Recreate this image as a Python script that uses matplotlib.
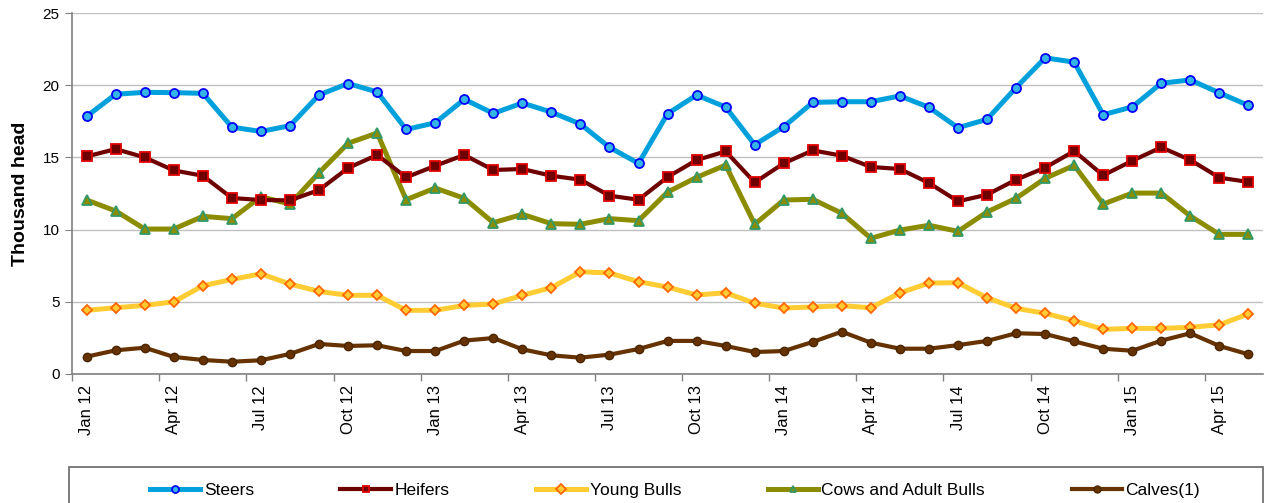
import matplotlib
matplotlib.use("Agg")
import matplotlib.pyplot as plt
from matplotlib.patches import Rectangle
import numpy as np

plt.rcParams['font.family'] = ['Liberation Sans', 'DejaVu Sans']

# monthly, Jan 12 .. May 15
months = ['Jan 12', 'Feb 12', 'Mar 12', 'Apr 12', 'May 12', 'Jun 12', 'Jul 12', 'Aug 12', 'Sep 12', 'Oct 12', 'Nov 12', 'Dec 12',
          'Jan 13', 'Feb 13', 'Mar 13', 'Apr 13', 'May 13', 'Jun 13', 'Jul 13', 'Aug 13', 'Sep 13', 'Oct 13', 'Nov 13', 'Dec 13',
          'Jan 14', 'Feb 14', 'Mar 14', 'Apr 14', 'May 14', 'Jun 14', 'Jul 14', 'Aug 14', 'Sep 14', 'Oct 14', 'Nov 14', 'Dec 14',
          'Jan 15', 'Feb 15', 'Mar 15', 'Apr 15', 'May 15']

steers = [17.85, 19.38, 19.51, 19.49, 19.44, 17.1, 16.8, 17.2, 19.33, 20.12, 19.54, 16.94,
          17.4, 19.03, 18.05, 18.77, 18.14, 17.31, 15.7, 14.59, 18.03, 19.32, 18.49, 15.88,
          17.13, 18.81, 18.86, 18.86, 19.26, 18.47, 17.06, 17.64, 19.84, 21.9, 21.6, 17.96,
          18.5, 20.14, 20.37, 19.47, 18.6]
heifers = [15.07, 15.58, 15.0, 14.1, 13.73, 12.19, 12.05, 12.03, 12.74, 14.27, 15.17, 13.62,
           14.42, 15.17, 14.13, 14.2, 13.73, 13.46, 12.35, 12.07, 13.64, 14.82, 15.42, 13.27,
           14.59, 15.49, 15.12, 14.34, 14.2, 13.23, 11.96, 12.42, 13.46, 14.29, 15.44, 13.76,
           14.77, 15.7, 14.82, 13.6, 13.3]
young_bulls = [4.41, 4.59, 4.75, 5.0, 6.11, 6.55, 6.94, 6.23, 5.72, 5.45, 5.45, 4.41,
               4.41, 4.75, 4.85, 5.45, 5.98, 7.08, 7.0, 6.39, 6.02, 5.47, 5.63, 4.9,
               4.57, 4.64, 4.73, 4.59, 5.61, 6.3, 6.32, 5.28, 4.55, 4.2, 3.69, 3.09,
               3.16, 3.16, 3.23, 3.41, 4.16]
cows = [12.05, 11.29, 10.04, 10.04, 10.92, 10.76, 12.28, 11.77, 13.94, 15.98, 16.69, 12.07,
        12.88, 12.17, 10.48, 11.06, 10.41, 10.37, 10.76, 10.62, 12.6, 13.62, 14.47, 10.37,
        12.05, 12.1, 11.13, 9.4, 9.97, 10.3, 9.88, 11.22, 12.17, 13.55, 14.45, 11.77,
        12.53, 12.53, 10.94, 9.67, 9.67]
calves = [1.2, 1.64, 1.82, 1.18, 0.97, 0.85, 0.95, 1.39, 2.08, 1.94, 1.99, 1.59,
          1.59, 2.31, 2.49, 1.71, 1.29, 1.13, 1.34, 1.73, 2.29, 2.29, 1.94, 1.52,
          1.59, 2.22, 2.93, 2.17, 1.75, 1.75, 2.0, 2.29, 2.82, 2.77, 2.26, 1.75,
          1.61, 2.31, 2.82, 1.94, 1.36]

fig = plt.figure(figsize=(12.66, 5.03), dpi=100)
ax = fig.add_axes([0.057, 0.2565, 0.9406, 0.7175])

x = np.arange(len(months))
ax.plot(x, steers, color='#00A0DC', lw=3.6, marker='o', ms=6.5, mfc='#33B5E5', mec='#0000FF', mew=1.3, label='Steers', zorder=5)
ax.plot(x, heifers, color='#6E0000', lw=3.0, marker='s', ms=6.5, mfc='#6E0000', mec='#E00000', mew=1.3, label='Heifers', zorder=4)
ax.plot(x, young_bulls, color='#FFCC33', lw=3.6, marker='D', ms=5.5, mfc='#FFCC33', mec='#FF6600', mew=1.3, label='Young Bulls', zorder=3)
ax.plot(x, cows, color='#8C8C00', lw=3.6, marker='^', ms=7, mfc='#8C8C00', mec='#339966', mew=1.3, label='Cows and Adult Bulls', zorder=3)
ax.plot(x, calves, color='#663300', lw=3.0, marker='o', ms=6, mfc='#663300', mec='#4A2500', mew=1.0, label='Calves(1)', zorder=3)

ax.set_xlim(-0.5, len(months) - 0.5)
ax.set_ylim(0, 25)
ax.set_yticks([0, 5, 10, 15, 20, 25])
ax.yaxis.grid(True, color='#C0C0C0', lw=1)
ax.set_axisbelow(True)

ax.set_xticks(x[::3])
ax.set_xticklabels(months[::3], rotation=90, fontsize=12)
ax.set_xticks(x[::3] - 0.5, minor=True)
ax.tick_params(axis='x', which='major', length=0, pad=8)
ax.tick_params(axis='x', which='minor', length=5, color='#808080', width=1)
ax.tick_params(axis='y', length=5, color='#808080', labelsize=11, pad=4)

for s in ['top', 'right']:
    ax.spines[s].set_visible(False)
for s in ['left', 'bottom']:
    ax.spines[s].set_color('#808080')
    ax.spines[s].set_linewidth(1.2)

ax.set_ylabel('Thousand head', fontsize=14, fontweight='bold', labelpad=10)

# legend box, runs off the bottom edge like the original
fig.patches.append(Rectangle((69 / 1266, -0.02), (1263 - 69) / 1266, 0.0716 + 0.02,
                             transform=fig.transFigure, fill=False, edgecolor='#666666', lw=1.2))
yc = 1 - 490 / 503
leg = fig.legend(loc='center', bbox_to_anchor=(150 / 1266, yc - 0.02, 1050 / 1266, 0.04), mode='expand',
                 ncol=5, fontsize=12.5, frameon=False, handlelength=2.9, handletextpad=0.2,
                 borderaxespad=0, borderpad=0)
for h in leg.legend_handles:
    h.set_markersize(5)

fig.savefig('out.png', dpi=100)
